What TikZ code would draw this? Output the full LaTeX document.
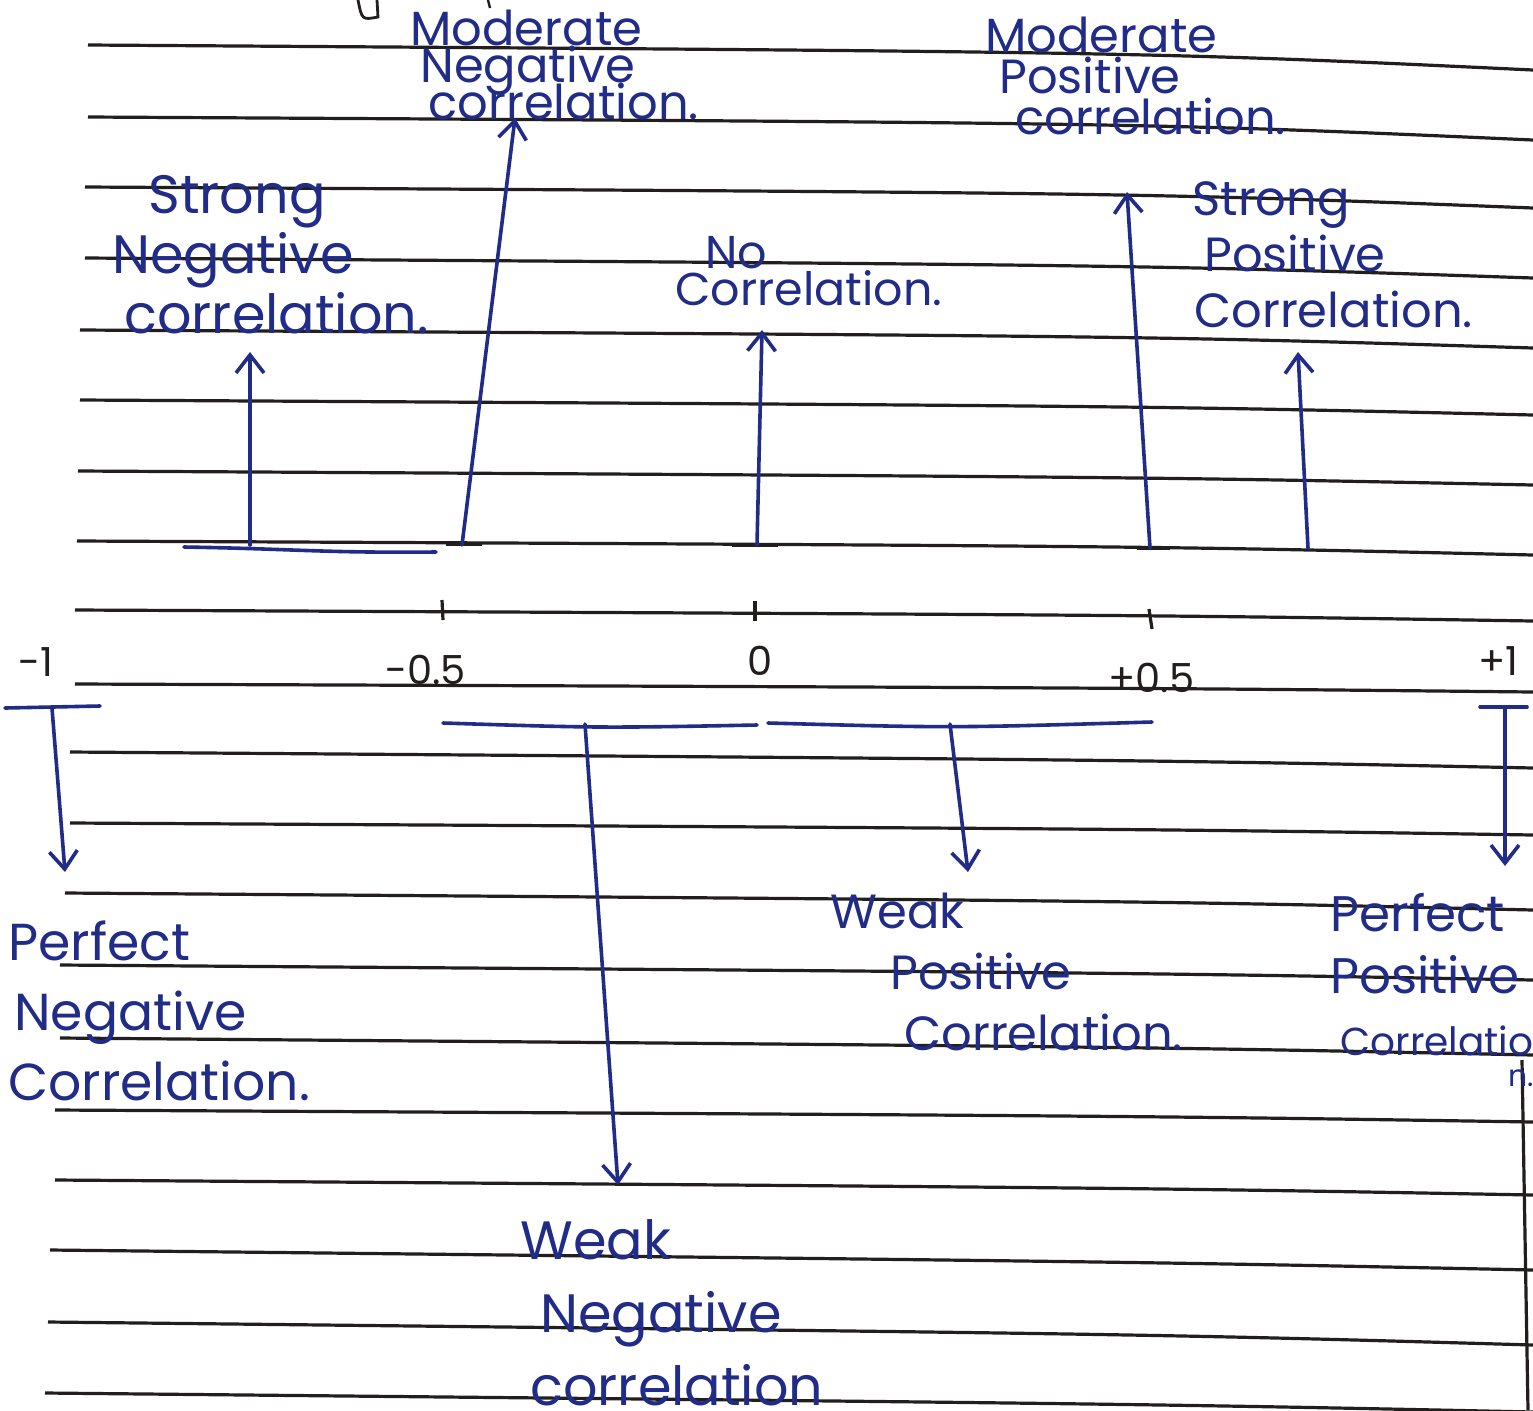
\documentclass[tikz,border=0pt]{standalone}
\usepackage{fontspec}
\setmainfont{Poppins}
\newfontfamily\hand{Poppins}
\usetikzlibrary{arrows.meta}
\definecolor{ink}{RGB}{32,44,135}
\definecolor{rulec}{RGB}{35,30,30}
\newcommand\rl[5]{\draw[ruled] (#1,#2) .. controls (#3,#4) .. (1533,#5);}
\begin{document}
\begin{tikzpicture}[x=0.5pt,y=-0.5pt,
  ruled/.style={draw=rulec,line width=1.6pt},
  penline/.style={draw=ink,line width=1.8pt,line cap=round},
  penarrow/.style={penline,-{Straight Barb[length=9pt,width=14pt,line width=1.8pt]}},
  lbl/.style={anchor=base west,inner sep=0pt,align=left,text=ink,
    execute at begin node={\lineskiplimit=-100pt\lineskip=0pt}},
  num/.style={anchor=base,inner sep=0pt,text=rulec,font=\hand\fontsize{20}{24}\selectfont}]
\useasboundingbox (0,0) rectangle (1533,1410);
\clip (0,0) rectangle (1533,1410);
\fill[white] (0,0) rectangle (1533,1410);

% ruled lines
\rl{88}{45}{1150}{52}{70}
\rl{88}{117}{1150}{123}{140}
\rl{85}{187}{1150}{193}{208}
\rl{85}{258}{1150}{265}{278}
\rl{80}{330}{1150}{336}{348}
\rl{80}{400}{1150}{406}{415}
\rl{78}{471}{1150}{477}{485}
\rl{77}{541}{1150}{546}{555}
\rl{75}{610}{1150}{615}{621}
\rl{75}{684}{1150}{688}{692}
\rl{70}{752}{1150}{760}{768}
\rl{70}{823}{1150}{829}{835}
\rl{65}{893}{1150}{901}{910}
\rl{60}{965}{1150}{973}{980}
\rl{60}{1038}{1150}{1047}{1055}
\rl{55}{1110}{1150}{1116}{1122}
\rl{55}{1180}{1150}{1188}{1195}
\rl{50}{1250}{1150}{1262}{1270}
\rl{48}{1322}{1150}{1334}{1345}
\rl{45}{1393}{1150}{1404}{1412}
\draw[ruled] (1522,1060) -- (1528,1410);

% top fragments
\draw[rulec,line width=1.4pt] (358,0) .. controls (362,20) .. (378,17) -- (377,0);
\draw[rulec,line width=1.2pt] (488,0) -- (490,8);

% axis ticks
\draw[ruled] (442,600) -- (443,620);
\draw[ruled] (755,601) -- (755,621);
\draw[ruled] (1149,609) -- (1152,629);
% thick marks on baseline
\draw[rulec,line width=2.4pt] (446,544) -- (482,544);
\draw[rulec,line width=2.4pt] (732,545) -- (778,545);
\draw[rulec,line width=2.4pt] (1137,548) -- (1170,548);
\draw[penline] (184,547) .. controls (300,549) and (320,553) .. (436,552);

% axis numbers
\node[num,anchor=base west] (nm1) at (18,676) {-1};
\node[num,anchor=base west] (nm05) at (385,684) {-0.5};
\node[num] (n0) at (760,675) {0};
\node[num,anchor=base west] (np05) at (1108,692) {+0.5};
\node[num,anchor=base west] (np1) at (1478,675) {+1};

% labels above (base anchor = baseline of last line)
\node[lbl,font=\hand\fontsize{24}{18.5}\selectfont] (mn) at (410,119)
  {Moderate\\\hspace*{5pt}Negative\\\hspace*{9pt}correlation.};
\node[lbl,font=\hand\fontsize{24}{20.5}\selectfont] (mp) at (985,134)
  {Moderate\\\hspace*{7pt}Positive\\\hspace*{15pt}correlation.};
\node[lbl,font=\hand\fontsize{27}{30}\selectfont] (sn) at (112,333)
  {\hspace*{18pt}Strong\\Negative\\\hspace*{6pt}correlation.};
\node[lbl,font=\hand\fontsize{23}{18.5}\selectfont] (nc) at (675,305)
  {\hspace*{15pt}No\\Correlation.};
\node[lbl,font=\hand\fontsize{24}{28}\selectfont] (sp) at (1192,327)
  {Strong\\\hspace*{6pt}Positive\\\hspace*{1pt}Correlation.};

% labels below
\node[lbl,font=\hand\fontsize{26}{35}\selectfont] (pn) at (8,1100)
  {Perfect\\\hspace*{3pt}Negative\\Correlation.};
\node[lbl,font=\hand\fontsize{24}{30.5}\selectfont] (wp) at (830,1050)
  {Weak\\\hspace*{30pt}Positive\\\hspace*{37pt}Correlation.};
\node[lbl,font=\hand\fontsize{27}{36.5}\selectfont] (wn) at (520,1405)
  {Weak\\\hspace*{10pt}Negative\\\hspace*{5pt}correlation};
\node[lbl,font=\hand\fontsize{25}{31}\selectfont] (pp) at (1330,1055)
  {Perfect\\Positive\\\hspace*{5pt}{\fontsize{19.5}{31}\selectfont Correlatio}};
\node[lbl,font=\hand\fontsize{15}{16}\selectfont] (ppn) at (1508,1086) {n.};

% upward arrows
\coordinate (b1) at (250,545); \coordinate (t1) at (250,352);
\coordinate (b2) at (462,545); \coordinate (t2) at (515,118);
\coordinate (b3) at (757,545); \coordinate (t3) at (762,330);
\coordinate (b4) at (1150,548); \coordinate (t4) at (1127,192);
\coordinate (b5) at (1308,548); \coordinate (t5) at (1298,352);
\draw[penarrow] (b1) -- (t1);
\draw[penarrow] (b2) -- (t2);
\draw[penarrow] (b3) -- (t3);
\draw[penarrow] (b4) -- (t4);
\draw[penarrow] (b5) -- (t5);

% downward brackets
\coordinate (pnl) at (5,708); \coordinate (pnr) at (100,706);
\coordinate (pns) at (52,708); \coordinate (pne) at (65,872);
\draw[penline] (pnl) -- (pnr);
\draw[penarrow] (pns) -- (pne);

\coordinate (wnl) at (443,723); \coordinate (wnr) at (757,725);
\coordinate (wns) at (585,724); \coordinate (wne) at (618,1185);
\draw[penline] (wnl) .. controls (600,728) .. (wnr);
\draw[penarrow] (wns) -- (wne);

\coordinate (wpl) at (768,723); \coordinate (wpr) at (1152,722);
\coordinate (wps) at (950,724); \coordinate (wpe) at (968,872);
\draw[penline] (wpl) .. controls (950,728) .. (wpr);
\draw[penarrow] (wps) -- (wpe);

\coordinate (ppl) at (1480,707); \coordinate (ppr) at (1527,707);
\coordinate (pps) at (1505,707); \coordinate (ppe) at (1505,866);
\draw[penline] (ppl) -- (ppr);
\draw[penarrow] (pps) -- (ppe);
\end{tikzpicture}
\end{document}
